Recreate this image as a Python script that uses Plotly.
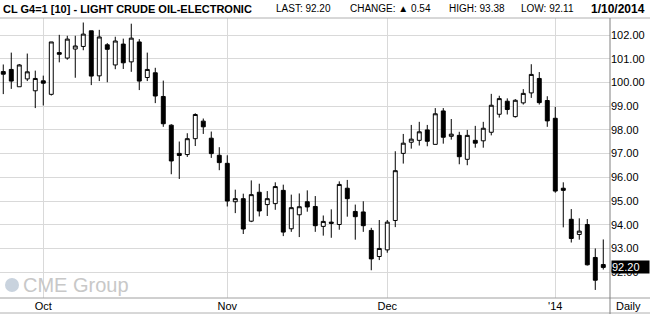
import pandas as pd
import plotly.graph_objects as go

# ---- data ----
holidays = ["2013-11-28", "2013-12-25", "2014-01-01"]
dates = [d.strftime("%Y-%m-%d") for d in pd.bdate_range("2013-09-24", "2014-01-10")
         if d.strftime("%Y-%m-%d") not in holidays]

opens = [100.46, 100.55, 99.82, 100.15, 99.65, 100.07, 99.50, 101.26, 101.03, 101.41,
         101.52, 102.18, 100.28, 101.59, 100.74, 101.62, 100.87, 101.71, 100.21, 100.41,
         99.41, 98.20, 97.01, 96.96, 97.63, 98.37, 97.65, 96.93, 96.59, 94.97,
         95.10, 94.15, 95.37, 94.85, 94.89, 95.45, 93.83, 94.42, 94.97, 94.77,
         93.93, 94.11, 94.01, 95.54, 94.56, 94.54, 93.76, 92.66, 92.94, 94.18,
         97.01, 97.48, 97.56, 98.00, 97.39, 98.80, 97.73, 97.77, 96.76, 97.56,
         97.54, 97.90, 98.66, 99.21, 98.56, 99.14, 99.56, 100.17, 99.24, 98.49,
         95.54, 94.23, 93.59, 94.01, 92.62, 92.32]
highs = [100.76, 101.26, 100.78, 101.22, 100.50, 100.29, 101.71, 102.01, 101.97, 101.97,
         102.53, 102.18, 102.22, 101.66, 101.93, 101.85, 102.48, 101.83, 101.26, 100.62,
         100.08, 98.24, 97.51, 97.86, 98.70, 98.48, 97.93, 97.27, 96.93, 95.48,
         95.31, 95.87, 95.73, 95.42, 95.79, 95.69, 95.27, 95.32, 95.45, 95.21,
         94.39, 94.65, 95.83, 95.89, 94.85, 94.99, 93.87, 94.20, 94.20, 97.10,
         97.83, 98.21, 98.34, 98.21, 98.92, 98.92, 98.46, 97.92, 98.00, 98.17,
         98.34, 99.52, 99.44, 99.33, 99.30, 99.72, 100.77, 100.44, 99.42, 98.97,
         95.79, 94.66, 94.27, 94.24, 93.00, 93.38]
lows = [99.51, 99.73, 99.82, 100.06, 98.92, 99.03, 99.45, 100.85, 100.96, 100.20,
        101.36, 99.89, 100.06, 100.01, 100.56, 100.57, 100.45, 99.68, 100.06, 99.13,
        98.13, 96.13, 95.93, 96.86, 97.32, 97.83, 96.82, 96.30, 94.77, 94.49,
        93.61, 94.11, 94.35, 94.37, 94.63, 93.52, 93.70, 93.48, 94.55, 93.70,
        93.54, 93.45, 93.79, 94.34, 93.37, 93.70, 92.08, 92.51, 92.82, 93.90,
        96.58, 97.21, 97.34, 97.31, 97.39, 97.42, 97.59, 96.55, 96.51, 97.25,
        97.25, 97.77, 98.52, 98.65, 98.52, 99.07, 99.35, 99.07, 98.13, 95.35,
        93.89, 93.25, 93.37, 92.28, 91.25, 92.11]
closes = [100.35, 100.06, 100.74, 100.45, 100.17, 99.97, 101.71, 101.19, 101.83, 101.54,
          102.04, 100.27, 101.92, 101.40, 101.75, 100.83, 101.87, 100.06, 100.55, 99.43,
          98.26, 96.69, 96.92, 97.63, 98.65, 98.13, 97.00, 96.62, 95.00, 95.10,
          93.82, 95.27, 94.58, 95.10, 95.61, 93.69, 94.72, 94.76, 94.75, 93.96,
          94.14, 94.06, 95.70, 95.10, 94.34, 93.96, 92.56, 93.00, 94.11, 96.28,
          97.44, 97.61, 97.92, 97.52, 98.68, 97.69, 97.82, 96.87, 97.77, 97.44,
          98.07, 99.04, 99.32, 98.86, 99.25, 99.54, 100.34, 99.15, 98.38, 95.42,
          95.45, 93.42, 93.73, 92.31, 91.66, 92.20]

month_dates = ["2013-10-01", "2013-11-01", "2013-12-02", "2014-01-02"]
month_labels = ["Oct", "Nov", "Dec", "'14"]
price_ticks = [92, 93, 94, 95, 96, 97, 98, 99, 100, 101, 102]
price_labels = ["%.2f" % v for v in price_ticks]

title_text = "CL G4=1 [10] - LIGHT CRUDE OIL-ELECTRONIC"
last_price = 92.20
change = 0.54
day_high = 93.38
day_low = 92.11
as_of = "1/10/2014"

# ---- figure ----
fig = go.Figure(go.Candlestick(
    x=dates, open=opens, high=highs, low=lows, close=closes,
    increasing=dict(line=dict(color="black", width=1), fillcolor="white"),
    decreasing=dict(line=dict(color="black", width=1), fillcolor="black"),
    whiskerwidth=0, showlegend=False, hoverinfo="skip",
))

grid = "#d9d9d9"
fig.update_layout(
    width=650, height=314,
    margin=dict(l=0, r=40, t=18, b=16),
    paper_bgcolor="white", plot_bgcolor="white",
    font=dict(family="Liberation Sans, Arial, sans-serif", size=11, color="black"),
    boxgap=0.3,
    xaxis=dict(
        type="category", range=[-0.41, 75.84], rangeslider=dict(visible=False),
        tickmode="array", tickvals=month_dates, ticktext=month_labels,
        showgrid=True, gridcolor=grid, gridwidth=1, ticks="", showline=False,
        zeroline=False, tickfont=dict(size=11),
    ),
    yaxis=dict(
        side="right", range=[90.91, 102.72], tickmode="array",
        tickvals=price_ticks, ticktext=price_labels, showgrid=True,
        gridcolor=grid, gridwidth=1, ticks="", showline=False, zeroline=False,
        tickfont=dict(size=11),
    ),
)

shapes = [
    dict(type="line", xref="paper", yref="paper", x0=0, x1=1.0656, y0=1, y1=1,
         line=dict(color="#b0b0b0", width=1)),
    dict(type="line", xref="paper", yref="paper", x0=0, x1=1.0656, y0=0, y1=0,
         line=dict(color="#a0a0a0", width=1)),
    dict(type="line", xref="paper", yref="paper", x0=0, x1=1.0656, y0=-0.0536, y1=-0.0536,
         line=dict(color="#b0b0b0", width=1)),
    dict(type="line", xref="paper", yref="paper", x0=1, x1=1, y0=-0.06, y1=1,
         line=dict(color="#808080", width=1)),
    dict(type="circle", xref="paper", yref="paper", x0=5 / 610, x1=19 / 610,
         y0=(298 - 292) / 280, y1=(298 - 278) / 280,
         fillcolor="#c9d3de", line=dict(color="#c9d3de", width=0)),
]
fig.update_layout(shapes=shapes)

hy = (298 - 9) / 280
ann = [
    dict(text="<b>" + title_text + "</b>", x=1 / 610, y=hy,
         font=dict(family="Liberation Sans, Arial", size=11)),
    dict(text="LAST: %.2f" % last_price, x=274 / 610, y=hy, font=dict(size=10)),
    dict(text="CHANGE: \u25b2 %.2f" % change, x=348 / 610, y=hy, font=dict(size=10)),
    dict(text="HIGH: %.2f" % day_high, x=447 / 610, y=hy, font=dict(size=10)),
    dict(text="LOW: %.2f" % day_low, x=519 / 610, y=hy, font=dict(size=10)),
    dict(text="<b>" + as_of + "</b>", x=589 / 610, y=hy, font=dict(size=12)),
    dict(text="Daily", x=614 / 610, y=(298 - 306) / 280, font=dict(size=11)),
    dict(text="CME Group", x=21 / 610, y=(298 - 285) / 280,
         font=dict(size=20, color="#c8c8c8")),
]
annotations = []
for a in ann:
    a.update(xref="paper", yref="paper", xanchor="left", yanchor="middle",
             showarrow=False)
    annotations.append(a)

annotations.append(dict(
    text="%.2f" % last_price, xref="paper", yref="y", x=1.0016, y=last_price,
    xanchor="left", yanchor="middle", showarrow=False, bgcolor="black",
    font=dict(color="white", size=11), borderpad=0, width=37, align="left",
))
fig.update_layout(annotations=annotations)

fig.write_html("out.html")
